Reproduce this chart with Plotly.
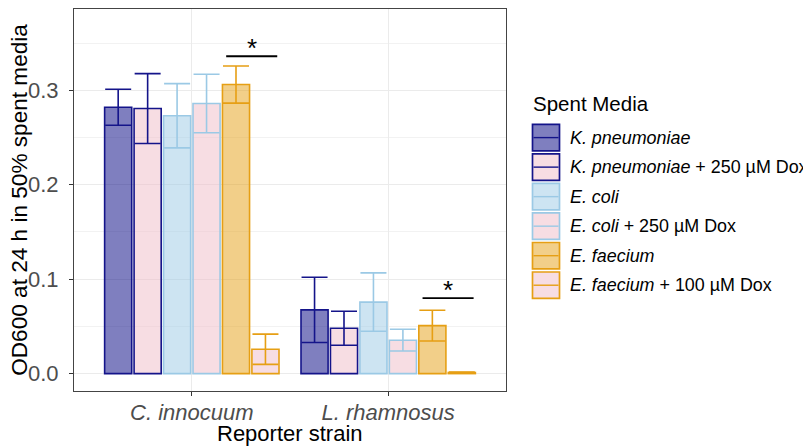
import plotly.graph_objects as go

# ---- data ----
reporters = ["C. innocuum", "L. rhamnosus"]
media = [
    "K. pneumoniae",
    "K. pneumoniae + 250 µM Dox",
    "E. coli",
    "E. coli + 250 µM Dox",
    "E. faecium",
    "E. faecium + 100 µM Dox",
]
media_labels = [
    "<i>K. pneumoniae</i>",
    "<i>K. pneumoniae</i> + 250 µM Dox",
    "<i>E. coli</i>",
    "<i>E. coli</i> + 250 µM Dox",
    "<i>E. faecium</i>",
    "<i>E. faecium</i> + 100 µM Dox",
]
# mean OD600 per medium: [C. innocuum, L. rhamnosus]
od_k = [0.282, 0.0675]
od_k_dox = [0.2806, 0.048]
od_ec = [0.273, 0.0757]
od_ec_dox = [0.286, 0.0354]
od_ef = [0.306, 0.0508]
od_ef_dox = [0.0258, 0.0012]
# standard deviations
sd_k = [0.019, 0.0345]
sd_k_dox = [0.037, 0.018]
sd_ec = [0.034, 0.0309]
sd_ec_dox = [0.031, 0.0115]
sd_ef = [0.0196, 0.0163]
sd_ef_dox = [0.016, 0.0005]
means = [od_k, od_k_dox, od_ec, od_ec_dox, od_ef, od_ef_dox]
sds = [sd_k, sd_k_dox, sd_ec, sd_ec_dox, sd_ef, sd_ef_dox]
# significance brackets (E. faecium vs + Dox)
sig_y = [0.336, 0.080]
sig_label = ["*", "*"]
y_ticks = [0.0, 0.1, 0.2, 0.3]
y_ticklabels = ["0.0", "0.1", "0.2", "0.3"]
x_title = "Reporter strain"
y_title = "OD600 at 24 h in 50% spent media"
legend_title = "Spent Media"

# ---- styles ----
border = ["#14148a", "#14148a", "#9bc9e5", "#9bc9e5", "#e69f14", "#e69f14"]
fills = [
    "rgba(0,0,127,0.5)",
    "rgba(239,187,199,0.5)",
    "rgba(155,201,229,0.5)",
    "rgba(239,187,199,0.5)",
    "rgba(230,159,20,0.5)",
    "rgba(239,187,199,0.5)",
]
FONT = "Liberation Sans, Arial, Helvetica, sans-serif"
xpos = list(range(len(reporters)))

fig = go.Figure()
for i, name in enumerate(media):
    fig.add_trace(go.Bar(
        x=xpos, y=means[i], name=name,
        marker=dict(color=fills[i], line=dict(color=border[i], width=1.6)),
        error_y=dict(type="data", array=sds[i], visible=True,
                     color=border[i], thickness=1.6, width=13),
        showlegend=False,
    ))

shapes = []
annotations = []
for j in range(len(reporters)):
    shapes.append(dict(type="line", xref="x", yref="y",
                       x0=xpos[j] + 0.175, x1=xpos[j] + 0.435,
                       y0=sig_y[j], y1=sig_y[j],
                       line=dict(color="black", width=1.8)))
    annotations.append(dict(xref="x", yref="y", x=xpos[j] + 0.305, y=sig_y[j],
                            text=sig_label[j], showarrow=False,
                            yanchor="middle", yshift=8,
                            font=dict(family=FONT, size=26, color="black")))

# ---- page geometry (browser body has an 8px default margin) ----
OFF = 8
WIN_W, WIN_H = 811, 447
W, H = WIN_W - OFF, WIN_H - OFF
# plot panel in window pixels
PL, PR, PT, PB = 74, 506, 9, 390.7
L = PL - OFF
T = PT - OFF
R = W - (PR - OFF)
B = H - (PB - OFF)
pw, ph = W - L - R, H - T - B


def px(xw):
    return (xw - OFF - L) / pw


def py(yw):
    return (H - B - (yw - OFF)) / ph


# axis titles
annotations.append(dict(xref="paper", yref="paper", x=px((PL + PR) / 2), y=py(433),
                        xanchor="center", yanchor="middle", text=x_title,
                        showarrow=False,
                        font=dict(family=FONT, size=22, color="black")))
annotations.append(dict(xref="paper", yref="paper", x=px(18.8), y=py((PT + PB) / 2),
                        xanchor="center", yanchor="middle", text=y_title,
                        textangle=-90, showarrow=False,
                        font=dict(family=FONT, size=22.6, color="black")))

# custom legend (ggplot style keys)
annotations.append(dict(xref="paper", yref="paper", x=px(531), y=py(103),
                        xanchor="left", yanchor="middle", text=legend_title,
                        showarrow=False,
                        font=dict(family=FONT, size=20.5, color="black")))
key_top = 123.5
key_step = 29.5
key_h = 28
for i in range(len(media)):
    y0 = key_top + i * key_step
    y1 = y0 + key_h
    shapes.append(dict(type="rect", xref="paper", yref="paper",
                       x0=px(532.5), x1=px(559.5), y0=py(y1 - 0.8), y1=py(y0 + 0.8),
                       fillcolor=fills[i], line=dict(color=border[i], width=1.7)))
    shapes.append(dict(type="line", xref="paper", yref="paper",
                       x0=px(533.5), x1=px(558.5), y0=py((y0 + y1) / 2), y1=py((y0 + y1) / 2),
                       line=dict(color=border[i], width=1.4)))
    annotations.append(dict(xref="paper", yref="paper", x=px(567.5), y=py((y0 + y1) / 2),
                            xanchor="left", yanchor="middle", text=media_labels[i],
                            showarrow=False,
                            font=dict(family=FONT, size=17.9, color="black")))

fig.update_layout(
    width=W, height=H,
    margin=dict(l=L, r=R, t=T, b=B, autoexpand=False),
    paper_bgcolor="white", plot_bgcolor="white",
    barmode="group", bargap=0.1, bargroupgap=0.08,
    font=dict(family=FONT, size=22, color="black"),
    shapes=shapes, annotations=annotations,
    xaxis=dict(
        range=[-0.6, 1.6], tickmode="array", tickvals=xpos,
        ticktext=["<i>%s</i>" % r for r in reporters],
        tickfont=dict(family=FONT, size=22, color="#4d4d4d"),
        ticks="outside", ticklen=4, tickcolor="#333333", tickwidth=1,
        ticklabelstandoff=-3,
        showgrid=True, gridcolor="#ebebeb", gridwidth=1.1,
        showline=True, mirror=True, linecolor="#444444", linewidth=1.2,
        zeroline=False, automargin=False,
    ),
    yaxis=dict(
        range=[-0.0184, 0.386], tickmode="array", tickvals=y_ticks,
        ticktext=y_ticklabels,
        tickfont=dict(family=FONT, size=22, color="#4d4d4d"),
        ticks="outside", ticklen=4, tickcolor="#333333", tickwidth=1,
        ticklabelstandoff=6,
        showgrid=True, gridcolor="#ebebeb", gridwidth=1.1,
        minor=dict(dtick=0.05, tick0=0, showgrid=True, gridcolor="#f2f2f2", gridwidth=0.6),
        showline=True, mirror=True, linecolor="#444444", linewidth=1.2,
        zeroline=False, automargin=False,
    ),
)

fig.write_html("out.html")
